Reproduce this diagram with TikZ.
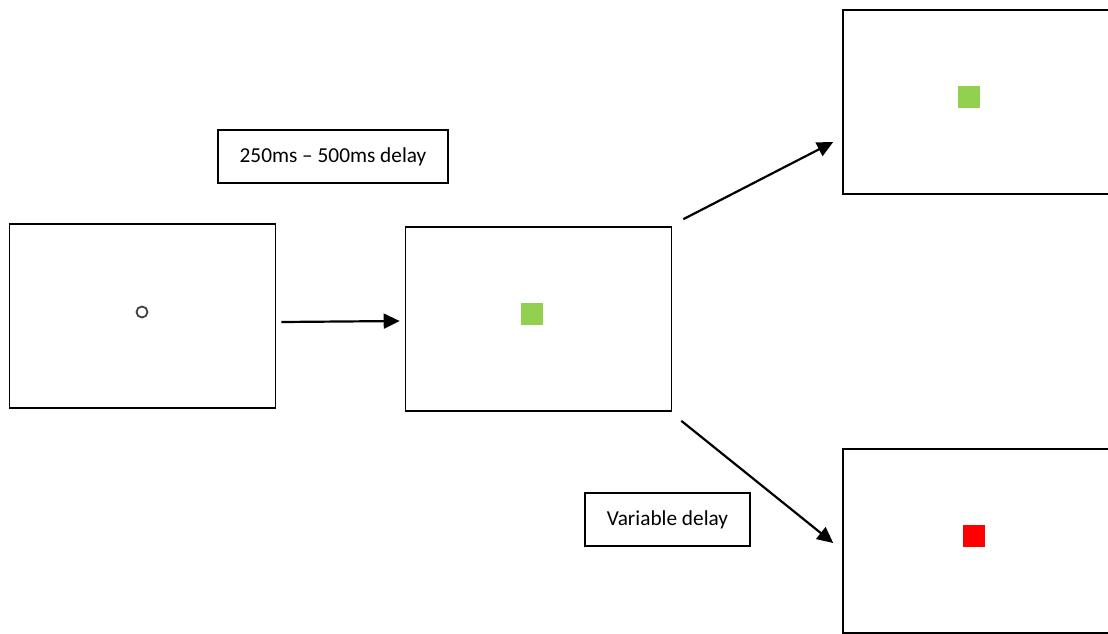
\documentclass[tikz,border=0pt]{standalone}
\usepackage{fontspec}
\setmainfont{Carlito}
\usepackage{tikz}
\usetikzlibrary{arrows.meta}
\definecolor{cuegreen}{HTML}{92D050}
\definecolor{cuered}{HTML}{FF0000}
\definecolor{fixgray}{HTML}{404040}

\begin{document}
\begin{tikzpicture}[x=1pt,y=-1pt,font=\fontsize{21.3}{25}\selectfont,
    screen/.style={draw,line width=1.6pt,minimum width=266pt,minimum height=184pt,inner sep=0pt},
    lbl/.style={draw,line width=1.4pt,minimum height=53pt,inner sep=0pt},
    stim/.style={fill=#1,minimum size=22pt,inner sep=0pt},
    arr/.style={-{Triangle[length=16pt,width=15pt]},line width=2.2pt}]
  \useasboundingbox (0,0) rectangle (1108,633);
  % screens
  \node[screen] (fix) at (142.5,316) {};
  \node[screen] (cue) at (538.5,319) {};
  \node[screen] (go) at (976,102) {};
  \node[screen] (stop) at (976,541) {};
  % stimuli
  \node[draw=fixgray,circle,line width=1.8pt,minimum size=11pt,inner sep=0pt] (ring) at (142,312) {};
  \node[stim=cuegreen] (sq1) at (532,314) {};
  \node[stim=cuegreen] (sq2) at (968.5,97) {};
  \node[stim=cuered] (sq3) at (973.5,536) {};
  % delays
  \node[lbl,minimum width=230pt] (d1) at (333,156.5) {250ms – 500ms delay};
  \node[lbl,minimum width=165pt] (d2) at (667.5,519.5) {Variable delay};
  % arrows
  \draw[arr] ([shift={(5,6)}]fix.east) -- ([shift={(-5,2)}]cue.west);
  \draw[arr] ([shift={(11,-7)}]cue.north east) -- ([shift={(-9,40)}]go.west);
  \draw[arr] ([shift={(9,9)}]cue.south east) -- ([shift={(-9,2)}]stop.west);
\end{tikzpicture}
\end{document}
